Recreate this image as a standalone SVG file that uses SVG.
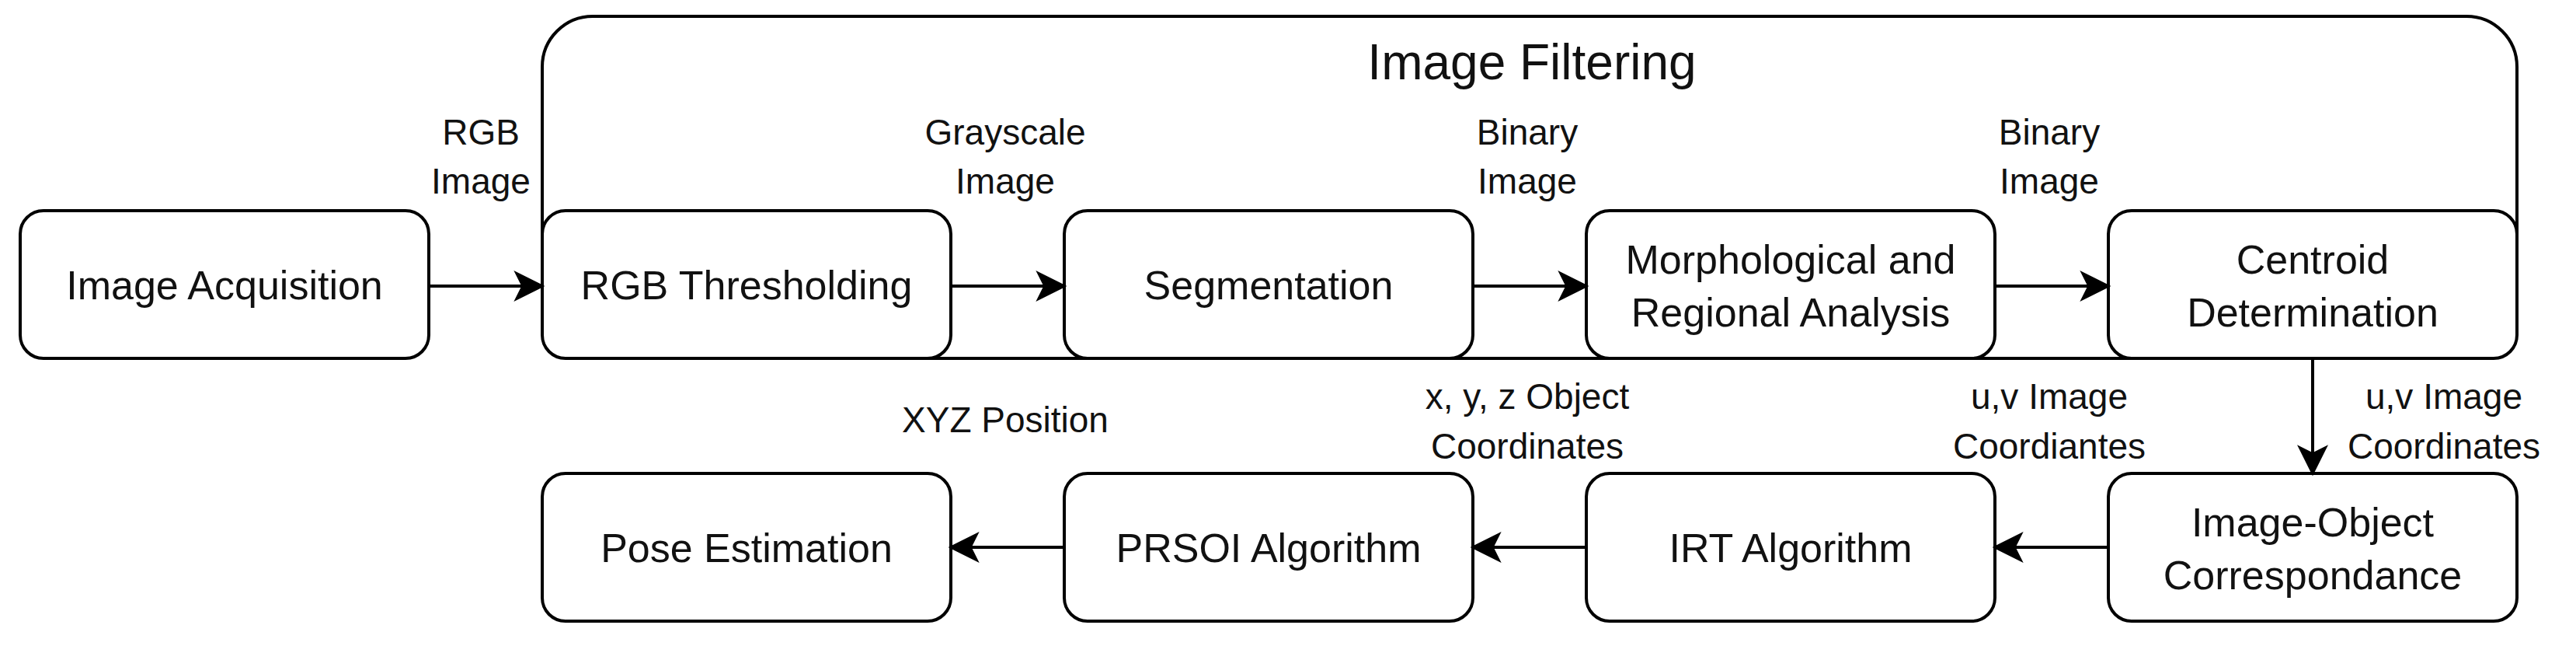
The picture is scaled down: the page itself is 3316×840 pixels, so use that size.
<svg xmlns="http://www.w3.org/2000/svg" width="3316" height="840" viewBox="0 0 3316 840">
<style>
.b{fill:#fff;stroke:#000;stroke-width:4}
.t{font-family:"Liberation Sans",Arial,sans-serif;font-size:52px;fill:#111;text-anchor:middle}
.l{font-family:"Liberation Sans",Arial,sans-serif;font-size:46px;fill:#111;text-anchor:middle}
.c{stroke:#000;stroke-width:4;fill:none;marker-end:url(#a)}
</style>
<defs><marker id="a" markerWidth="12" markerHeight="12" refX="11" refY="6" orient="auto" markerUnits="userSpaceOnUse" viewBox="0 0 12 12"><path d="M0,0 L12,6 L0,12 L3,6 Z" fill="#000"/></marker>
<marker id="a2" viewBox="0 0 12 12" refX="11" refY="6" markerWidth="40" markerHeight="40" markerUnits="userSpaceOnUse" orient="auto"><path d="M0,0 L12,6 L0,12 L3,6 Z" fill="#000"/></marker></defs>
<g id="container"><rect x="698" y="21" width="2542" height="440" rx="65" fill="none" stroke="#000" stroke-width="4"/><text x="1972" y="102" class="t" style="font-size:64px">Image Filtering</text></g>
<g id="n1"><rect class="b" x="26" y="271" width="526" height="190" rx="30"/><text class="t" x="289" y="385">Image Acquisition</text></g>
<g id="n2"><rect class="b" x="698" y="271" width="526" height="190" rx="30"/><text class="t" x="961" y="385">RGB Thresholding</text></g>
<g id="n3"><rect class="b" x="1370" y="271" width="526" height="190" rx="30"/><text class="t" x="1633" y="385">Segmentation</text></g>
<g id="n4"><rect class="b" x="2042" y="271" width="526" height="190" rx="30"/><text class="t" x="2305" y="352">Morphological and</text><text class="t" x="2305" y="420">Regional Analysis</text></g>
<g id="n5"><rect class="b" x="2714" y="271" width="526" height="190" rx="30"/><text class="t" x="2977" y="352">Centroid</text><text class="t" x="2977" y="420">Determination</text></g>
<g id="n6"><rect class="b" x="2714" y="609" width="526" height="190" rx="30"/><text class="t" x="2977" y="690">Image-Object</text><text class="t" x="2977" y="758">Correspondance</text></g>
<g id="n7"><rect class="b" x="2042" y="609" width="526" height="190" rx="30"/><text class="t" x="2305" y="723">IRT Algorithm</text></g>
<g id="n8"><rect class="b" x="1370" y="609" width="526" height="190" rx="30"/><text class="t" x="1633" y="723">PRSOI Algorithm</text></g>
<g id="n9"><rect class="b" x="698" y="609" width="526" height="190" rx="30"/><text class="t" x="961" y="723">Pose Estimation</text></g>
<g id="connectors" style="marker-end:url(#a2)">
<path class="c" style="marker-end:url(#a2)" d="M552,368 H698"/>
<path class="c" style="marker-end:url(#a2)" d="M1224,368 H1370"/>
<path class="c" style="marker-end:url(#a2)" d="M1896,368 H2042"/>
<path class="c" style="marker-end:url(#a2)" d="M2568,368 H2714"/>
<path class="c" style="marker-end:url(#a2)" d="M2977,461 V609"/>
<path class="c" style="marker-end:url(#a2)" d="M2714,704 H2568"/>
<path class="c" style="marker-end:url(#a2)" d="M2042,704 H1896"/>
<path class="c" style="marker-end:url(#a2)" d="M1370,704 H1224"/>
</g>
<g id="labels">
<text class="l" x="619" y="186">RGB</text><text class="l" x="619" y="249">Image</text>
<text class="l" x="1294" y="186">Grayscale</text><text class="l" x="1294" y="249">Image</text>
<text class="l" x="1966" y="186">Binary</text><text class="l" x="1966" y="249">Image</text>
<text class="l" x="2638" y="186">Binary</text><text class="l" x="2638" y="249">Image</text>
<text class="l" x="1294" y="556">XYZ Position</text>
<text class="l" x="1966" y="526">x, y, z Object</text><text class="l" x="1966" y="590">Coordinates</text>
<text class="l" x="2638" y="526">u,v Image</text><text class="l" x="2638" y="590">Coordiantes</text>
<text class="l" x="3146" y="526">u,v Image</text><text class="l" x="3146" y="590">Coordinates</text>
</g>
</svg>
